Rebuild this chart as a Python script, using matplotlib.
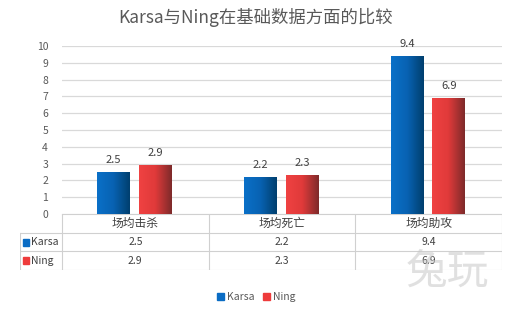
import numpy as np
import matplotlib.pyplot as plt
from matplotlib.colors import LinearSegmentedColormap
from matplotlib.patches import Rectangle

plt.rcParams['font.family'] = ['Noto Sans CJK SC', 'DejaVu Sans']

categories = ['场均击杀', '场均死亡', '场均助攻']
series = ['Karsa', 'Ning']
karsa = [2.5, 2.2, 9.4]
ning = [2.9, 2.3, 6.9]
title = 'Karsa与Ning在基础数据方面的比较'

W, H = 512, 312
txt = '#595959'
grid = '#d9d9d9'
base_colors = ['#0a6cc4', '#ee3b3b']
cmaps = [LinearSegmentedColormap.from_list('b', ['#0a70c8', '#0862b2', '#003f6e']),
         LinearSegmentedColormap.from_list('r', ['#f04242', '#e03a3a', '#7e2a2a'])]


def fx(px):
    return px / W


def fy(py):
    return 1 - py / H


fig = plt.figure(figsize=(W / 100, H / 100), dpi=100)
ax = fig.add_axes([fx(62), fy(214), fx(502) - fx(62), fy(46) - fy(214)])

x = np.arange(len(categories))
width = 0.225
offsets = [-0.147, 0.137]
grad = np.linspace(0, 1, 64).reshape(1, -1)
for vals, off, cm in zip([karsa, ning], offsets, cmaps):
    for xi, v in zip(x, vals):
        x0 = xi + off - width / 2
        ax.imshow(grad, extent=[x0, x0 + width, 0, v], aspect='auto', cmap=cm,
                  zorder=3, interpolation='bilinear')
        ax.annotate(f'{v}', (xi + off, v), xytext=(0, 5), textcoords='offset points',
                    ha='center', va='bottom', fontsize=8, color='#404040')

ax.set_xlim(-0.5, 2.5)
ax.set_ylim(0, 10)
ax.set_yticks(range(0, 11))
ax.set_xticks([])
ax.yaxis.grid(True, color=grid, linewidth=0.9, zorder=0)
ax.set_axisbelow(True)
for s in ax.spines.values():
    s.set_visible(False)
ax.tick_params(axis='y', length=0, labelsize=7.5, labelcolor=txt, pad=10)

fig.text(0.5, fy(17), title, ha='center', va='center', fontsize=12.5, color=txt)

# data table under the plot
tb = fig.add_axes([fx(20), fy(270), fx(502) - fx(20), fy(214) - fy(270)])
tb.set_xlim(20, 502)
tb.set_ylim(270, 214)
tb.axis('off')
cols = np.linspace(62, 502, len(categories) + 1)
rows = [214, 233, 251, 270]
lc = '#d0d0d0'
tb.plot([62, 502], [rows[0], rows[0]], color=lc, lw=0.8)
for r in rows[1:]:
    tb.plot([20, 502], [r, r], color=lc, lw=0.8)
tb.plot([20, 20], [rows[1], rows[3]], color=lc, lw=0.8)
for c in cols:
    tb.plot([c, c], [rows[0], rows[3]], color=lc, lw=0.8)
for i, cat in enumerate(categories):
    tb.text((cols[i] + cols[i + 1]) / 2, (rows[0] + rows[1]) / 2, cat,
            ha='center', va='center', fontsize=8.5, color='#404040')
for j, (name, vals) in enumerate(zip(series, [karsa, ning])):
    yc = (rows[j + 1] + rows[j + 2]) / 2
    tb.add_patch(Rectangle((23, yc - 3.5), 6, 7, color=base_colors[j]))
    tb.text(31, yc, name, ha='left', va='center', fontsize=7.5, color='#404040')
    for i, v in enumerate(vals):
        tb.text((cols[i] + cols[i + 1]) / 2, yc, f'{v}', ha='center', va='center',
                fontsize=7.5, color='#404040')

# watermark
fig.text(fx(447), fy(272), '兔玩', ha='center', va='center', fontsize=30,
         color='#c8c8c8', alpha=0.55)

# legend
lg = fig.add_axes([0, 0, 1, 1], zorder=-1)
lg.set_xlim(0, W)
lg.set_ylim(H, 0)
lg.axis('off')
for name, c, px in zip(series, base_colors, [217, 263]):
    lg.add_patch(Rectangle((px, 293), 7, 7, color=c))
    lg.text(px + 10, 297, name, ha='left', va='center', fontsize=7.5, color=txt)

fig.savefig('out.png', dpi=100)
